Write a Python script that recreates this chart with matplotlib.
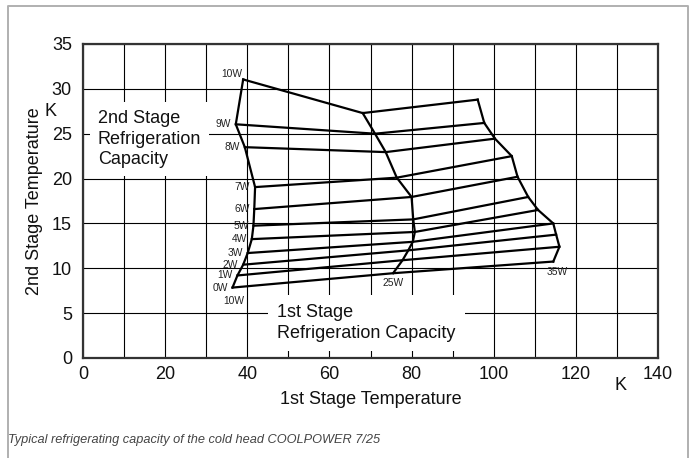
import matplotlib
matplotlib.use("Agg")
import matplotlib.pyplot as plt
from matplotlib.lines import Line2D

# ---- data -------------------------------------------------------------
second_stage_load = ["0W", "1W", "2W", "3W", "4W", "5W", "6W", "7W", "8W", "9W", "10W"]
first_stage_load = ["10W", "25W", "35W"]

# 1st stage load 10 W (left curve): 1st-stage T, 2nd-stage T
t1_10W = [36.4, 37.6, 39.0, 40.1, 41.1, 41.5, 41.7, 41.9, 39.4, 37.2, 39.0]
t2_10W = [7.85, 9.2, 10.4, 11.7, 13.25, 14.75, 16.6, 19.05, 23.5, 26.05, 31.05]
# 1st stage load 25 W (middle curve)
t1_25W = [75.5, 77.8, 79.2, 80.3, 80.8, 80.4, 80.0, 76.4, 73.7, 71.1, 68.1]
t2_25W = [9.45, 10.9, 12.0, 12.95, 14.05, 15.45, 17.95, 20.1, 22.95, 25.0, 27.3]
# 1st stage load 35 W (right curve)
t1_35W = [114.5, 116.0, 115.2, 114.5, 110.8, 108.4, 105.8, 104.4, 100.3, 97.7, 96.1]
t2_35W = [10.75, 12.4, 13.75, 15.0, 16.5, 17.95, 20.2, 22.5, 24.45, 26.2, 28.8]

x_ticks = [0, 20, 40, 60, 80, 100, 120, 140]
y_ticks = [0, 5, 10, 15, 20, 25, 30, 35]

# ---- figure -----------------------------------------------------------
FONT = ["Liberation Sans", "DejaVu Sans"]
plt.rcParams["font.family"] = FONT

fig = plt.figure(figsize=(6.91, 4.58), dpi=100)
W, H = 691, 458
ax = fig.add_axes([83 / W, 1 - 358 / H, (658 - 83) / W, (358 - 44) / H])

ax.set_xlim(0, 140)
ax.set_ylim(0, 35)
ax.set_xticks(range(0, 141, 10), minor=False)
ax.set_yticks(range(0, 36, 5))
ax.grid(True, color="black", linewidth=0.8, zorder=1)
ax.set_axisbelow(True)
ax.set_xticklabels([str(v) if v in x_ticks else "" for v in range(0, 141, 10)])
ax.set_yticklabels([str(v) for v in y_ticks])
ax.tick_params(length=0, labelsize=13, colors="#111111")
ax.tick_params(axis="x", pad=6)
ax.tick_params(axis="y", pad=8)
for s in ax.spines.values():
    s.set_linewidth(1.6)
    s.set_color("#333333")
    s.set_zorder(6)

lw = 1.6
# constant 2nd-stage load lines
for i in range(len(second_stage_load)):
    ax.plot([t1_10W[i], t1_25W[i], t1_35W[i]],
            [t2_10W[i], t2_25W[i], t2_35W[i]],
            color="black", lw=lw, zorder=4, solid_joinstyle="miter")
# constant 1st-stage load curves
for xs, ys in ((t1_10W, t2_10W), (t1_25W, t2_25W), (t1_35W, t2_35W)):
    ax.plot(xs, ys, color="black", lw=lw, zorder=4, solid_joinstyle="miter")

small = 7.4
# 2nd-stage load labels at left curve
for i, lab in enumerate(second_stage_load):
    if lab == "10W":
        off = (-1, 4)
    else:
        off = (-3.5, 0)
    ax.annotate(lab, (t1_10W[i], t2_10W[i]), xytext=off, textcoords="offset points",
                ha="right", va="center", fontsize=small, color="#222222", zorder=5)

# 1st-stage load labels below the 0W line
ax.annotate(first_stage_load[0], (t1_10W[0], t2_10W[0]), xytext=(1, -10),
            textcoords="offset points", ha="center", va="center", fontsize=small, color="#222222")
ax.annotate(first_stage_load[1], (t1_25W[0], t2_25W[0]), xytext=(0, -7),
            textcoords="offset points", ha="center", va="center", fontsize=small, color="#222222")
ax.annotate(first_stage_load[2], (t1_35W[0], t2_35W[0]), xytext=(3, -7.5),
            textcoords="offset points", ha="center", va="center", fontsize=small, color="#222222")

# boxed annotations
ax.text(3.6, 24.4, "2nd Stage\nRefrigeration\nCapacity", ha="left", va="center",
        fontsize=13, color="#111111", linespacing=1.25, zorder=3,
        bbox=dict(boxstyle="square,pad=0.45", fc="white", ec="none"))
ax.text(47.3, 3.9, "1st Stage\nRefrigeration Capacity", ha="left", va="center",
        fontsize=13, color="#111111", linespacing=1.25, zorder=3,
        bbox=dict(boxstyle="square,pad=0.5", fc="white", ec="none"))

# unit labels
fig.text(620 / W, 1 - 385.5 / H, "K", ha="center", va="center", fontsize=13, color="#111111")
fig.text(50 / W, 1 - 112 / H, "K", ha="center", va="center", fontsize=13, color="#111111")

# axis titles
fig.text(370.5 / W, 1 - 399 / H, "1st Stage Temperature", ha="center", va="center",
         fontsize=13, color="#111111")
fig.text(34.5 / W, 1 - 201 / H, "2nd Stage Temperature", ha="center", va="center",
         rotation=90, fontsize=13, color="#111111")

# caption
fig.text(8 / W, 1 - 440 / H, "Typical refrigerating capacity of the cold head COOLPOWER 7/25",
         ha="left", va="center", fontsize=9.2, style="italic", color="#444444",
         family=["Liberation Sans", "DejaVu Sans"])

# outer frame (left, top, right)
frame_color = "#b0b0b0"
fig.add_artist(Line2D([8 / W, 8 / W, 688 / W, 688 / W], [0, 1 - 6 / H, 1 - 6 / H, 0],
                      transform=fig.transFigure, color=frame_color, lw=1.4))

fig.savefig("out.png", dpi=100)
